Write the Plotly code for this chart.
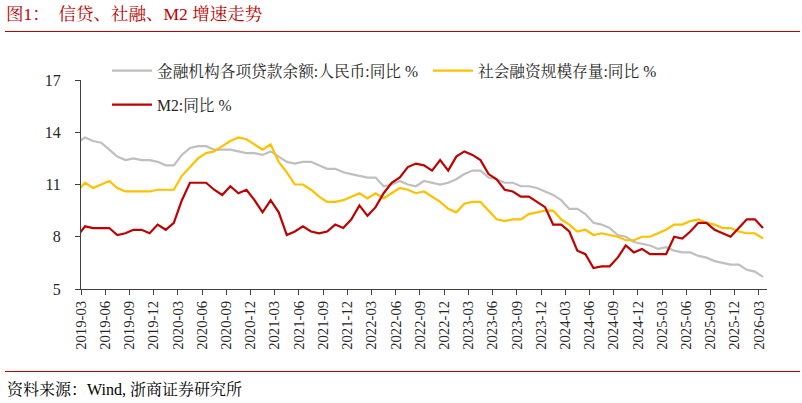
import plotly.graph_objects as go

months = ["2019-02"] + [f"{y}-{m:02d}" for y in range(2019, 2027) for m in range(1, 13)
                        if (y, m) >= (2019, 3) and (y, m) <= (2026, 3)]

loans = [13.4,
         13.7, 13.5, 13.4, 13.0, 12.6, 12.4, 12.5, 12.4, 12.4, 12.3,
         12.1, 12.1, 12.7, 13.1, 13.2, 13.2, 13.0, 13.0, 13.0, 12.9, 12.8, 12.8,
         12.7, 12.9, 12.6, 12.3, 12.2, 12.3, 12.3, 12.1, 11.9, 11.9, 11.7, 11.6,
         11.5, 11.4, 11.4, 10.9, 11.0, 11.2, 11.0, 10.9, 11.2, 11.1, 11.0, 11.1,
         11.3, 11.6, 11.8, 11.8, 11.4, 11.3, 11.1, 11.1, 10.9, 10.9, 10.8, 10.6,
         10.4, 10.1, 9.6, 9.6, 9.3, 8.8, 8.7, 8.5, 8.1, 8.0, 7.7, 7.6,
         7.5, 7.3, 7.4, 7.2, 7.1, 7.1, 6.9, 6.8, 6.6, 6.5, 6.4, 6.4,
         6.1, 6.0, 5.7]

tsf = [10.6,
       11.1, 10.8, 11.0, 11.2, 10.8, 10.6, 10.6, 10.6, 10.6, 10.7,
       10.7, 10.7, 11.5, 12.0, 12.5, 12.8, 12.9, 13.2, 13.5, 13.7, 13.6, 13.3,
       13.0, 13.3, 12.3, 11.7, 11.0, 11.0, 10.7, 10.3, 10.0, 10.0, 10.1, 10.3,
       10.5, 10.2, 10.5, 10.2, 10.5, 10.8, 10.7, 10.5, 10.6, 10.3, 10.0, 9.6,
       9.4, 9.9, 10.0, 10.0, 9.5, 9.0, 8.9, 9.0, 9.0, 9.3, 9.4, 9.5,
       9.5, 9.0, 8.7, 8.3, 8.4, 8.1, 8.2, 8.1, 8.0, 7.8, 7.8, 8.0,
       8.0, 8.2, 8.4, 8.7, 8.7, 8.9, 9.0, 8.8, 8.7, 8.5, 8.5, 8.3,
       8.2, 8.2, 7.9]

m2 = [8.0,
      8.6, 8.5, 8.5, 8.5, 8.1, 8.2, 8.4, 8.4, 8.2, 8.7,
      8.4, 8.8, 10.1, 11.1, 11.1, 11.1, 10.7, 10.4, 10.9, 10.5, 10.7, 10.1,
      9.4, 10.1, 9.4, 8.1, 8.3, 8.6, 8.3, 8.2, 8.3, 8.7, 8.5, 9.0,
      9.8, 9.2, 9.7, 10.5, 11.1, 11.4, 12.0, 12.2, 12.1, 11.8, 12.4, 11.8,
      12.6, 12.9, 12.7, 12.4, 11.6, 11.3, 10.7, 10.6, 10.3, 10.3, 10.0, 9.7,
      8.7, 8.7, 8.3, 7.2, 7.0, 6.2, 6.3, 6.3, 6.8, 7.5, 7.1, 7.3,
      7.0, 7.0, 7.0, 8.0, 7.9, 8.3, 8.8, 8.8, 8.4, 8.2, 8.0, 8.5,
      9.0, 9.0, 8.5]

names = ["金融机构各项贷款余额:人民币:同比 %", "社会融资规模存量:同比 %", "M2:同比 %"]
colors = ["#BFBFBF", "#FFC000", "#C00000"]

# x index: 2019-03 -> 0 ; 2019-02 -> -1 (drawn but clipped at axis start)
xs = list(range(-1, len(months) - 1))
tick_idx = list(range(1, len(months), 3))
tickvals = [xs[i] - 0.5 for i in tick_idx]
ticktext = [months[i] for i in tick_idx]

FONT = "Liberation Serif, 'Times New Roman', 'Noto Sans CJK SC', serif"
CJK = "Liberation Serif, 'Noto Serif CJK SC', 'Noto Sans CJK SC', serif"

W, H = 802, 403
L, R, T, B = 81, 35, 80, 114
PW, PH = W - L - R, H - T - B


def px_x(px):
    return (px - L) / PW


def px_y(py):
    return (H - B - py) / PH


fig = go.Figure()
for vals, name, col, lg in zip([loans, tsf, m2], names, colors, ["legend", "legend2", "legend3"]):
    fig.add_trace(go.Scatter(x=xs, y=vals, mode="lines", name=name,
                             line=dict(color=col, width=2.2), legend=lg))

leg_common = dict(orientation="h", bgcolor="rgba(0,0,0,0)", borderwidth=0,
                  font=dict(family=CJK, size=15.7, color="#262626"),
                  xanchor="left", yanchor="middle", itemwidth=40, tracegroupgap=0)
fig.update_layout(
    width=W, height=H,
    margin=dict(l=L, r=R, t=T, b=B, pad=0, autoexpand=False),
    paper_bgcolor="white", plot_bgcolor="white",
    showlegend=True,
    legend=dict(x=px_x(107), y=px_y(71), **leg_common),
    legend2=dict(x=px_x(428), y=px_y(71), **leg_common),
    legend3=dict(x=px_x(107), y=px_y(105), **leg_common),
    xaxis=dict(range=[-0.5, len(months) - 1.5], tickmode="array", tickvals=tickvals,
               ticktext=ticktext, tickangle=-90, ticks="outside", ticklen=5,
               tickcolor="#404040", showline=True, linecolor="#404040", linewidth=1,
               showgrid=False, zeroline=False,
               tickfont=dict(family=FONT, size=14.7, color="#262626")),
    yaxis=dict(range=[5, 17], tickmode="linear", tick0=5, dtick=3, ticks="outside",
               ticklen=5, tickcolor="#404040", showline=True, linecolor="#404040",
               linewidth=1, showgrid=False, zeroline=False, ticklabelstandoff=11,
               tickfont=dict(family=FONT, size=16, color="#262626")),
    annotations=[
        dict(text="图1：  信贷、社融、M2 增速走势", xref="paper", yref="paper",
             x=px_x(4), y=px_y(14), xanchor="left", yanchor="middle",
             showarrow=False, font=dict(family=CJK, size=17.5, color="#C00000")),
        dict(text="资料来源：Wind, 浙商证券研究所", xref="paper", yref="paper",
             x=px_x(5), y=px_y(389), xanchor="left", yanchor="middle",
             showarrow=False, font=dict(family=CJK, size=16, color="#000000")),
    ],
    shapes=[
        dict(type="line", xref="paper", yref="paper", x0=px_x(5), x1=px_x(800),
             y0=px_y(31.5), y1=px_y(31.5), line=dict(color="#C00000", width=1.2)),
        dict(type="line", xref="paper", yref="paper", x0=px_x(5), x1=px_x(800),
             y0=px_y(371.5), y1=px_y(371.5), line=dict(color="#C00000", width=1.2)),
    ],
)

fig.write_html("out.html")
